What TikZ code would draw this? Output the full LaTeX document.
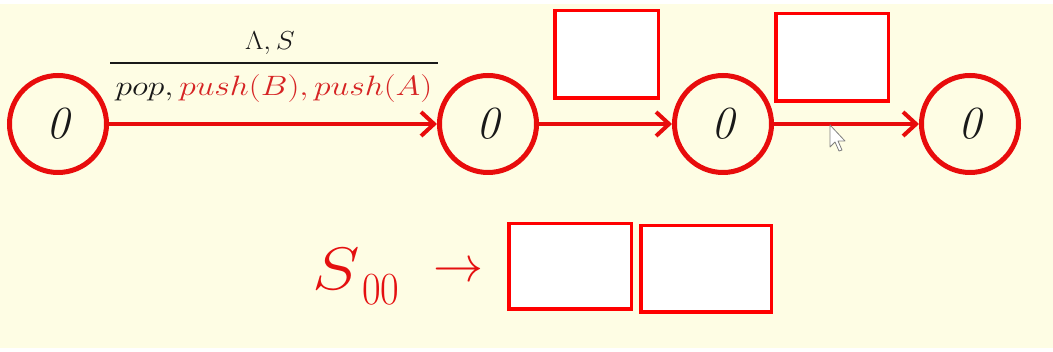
\RequirePackage{fix-cm}
\documentclass[tikz,border=0pt]{standalone}
\usetikzlibrary{arrows.meta}
\definecolor{bg}{RGB}{254,253,228}
\definecolor{cred}{RGB}{232,12,12}
\definecolor{bred}{RGB}{255,0,0}
\definecolor{tred}{RGB}{214,36,36}
\definecolor{sred}{RGB}{228,16,16}
\definecolor{tblack}{RGB}{25,25,25}
\begin{document}
\begin{tikzpicture}[x=1pt,y=-1pt,
  state/.style={circle,draw=cred,line width=5pt,minimum size=97pt,inner sep=0pt,
    font=\fontsize{46}{46}\selectfont\itshape,text=tblack},
  trans/.style={draw=cred,line width=4pt,-{Straight Barb[length=13pt,width=24pt]}},
  box/.style={draw=bred,fill=white,line width=3.5pt,inner sep=0pt},
  lbl/.style={inner sep=0pt,text=tblack},
  bigred/.style={inner sep=0pt,text=sred}]
\fill[white] (0,0) rectangle (1053,352);
\fill[bg] (0,4) rectangle (1053,348);
\useasboundingbox (0,0) rectangle (1053,352);
% states
\node[state] (q0) at (58,124) {0};
\node[state] (q1) at (488,124) {0};
\node[state] (q2) at (723,124) {0};
\node[state] (q3) at (970,124) {0};
% transitions
\draw[trans] (q0) -- (q1);
\draw[trans] (q1) -- (q2);
\draw[trans] (q2) -- (q3);
% label of first transition
\node[lbl,anchor=base,font=\fontsize{26}{26}\selectfont,xscale=1.1] (num) at (270,50) {$\Lambda,S$};
\node[lbl,font=\fontsize{28}{28}\selectfont,xscale=1.2] (den) at (274,89) {$pop,{\color{tred}push(B),push(A)}$};
\coordinate (fl) at (110,63);
\coordinate (fr) at (438,63);
\draw[tblack,line width=1.2pt] (fl) -- (fr);
% boxes
\node[box,minimum width=103.5pt,minimum height=87.5pt] (b1) at (606.5,54.5) {};
\node[box,minimum width=112.5pt,minimum height=87.5pt] (b2) at (832,57.5) {};
\node[box,minimum width=122.5pt,minimum height=85.5pt] (b3) at (570,266.5) {};
\node[box,minimum width=130.5pt,minimum height=86.5pt] (b4) at (706,269) {};
% production
\node[bigred,anchor=base west,font=\fontsize{60}{60}\selectfont,xscale=1.2] (s) at (312,290) {$S$};
\node[bigred,anchor=base west,font=\fontsize{46}{46}\selectfont,xscale=0.88] (sub) at (362,305) {00};
\node[bigred,font=\fontsize{50}{50}\selectfont] (arr) at (458,272) {$\rightarrow$};
% mouse cursor
\draw[gray,fill=white,line width=0.8pt,line join=round]
  (830,125) -- (830,147) -- (835,142) -- (839,151) -- (842,150) -- (838,141) -- (845,141) -- cycle;
\end{tikzpicture}
\end{document}
